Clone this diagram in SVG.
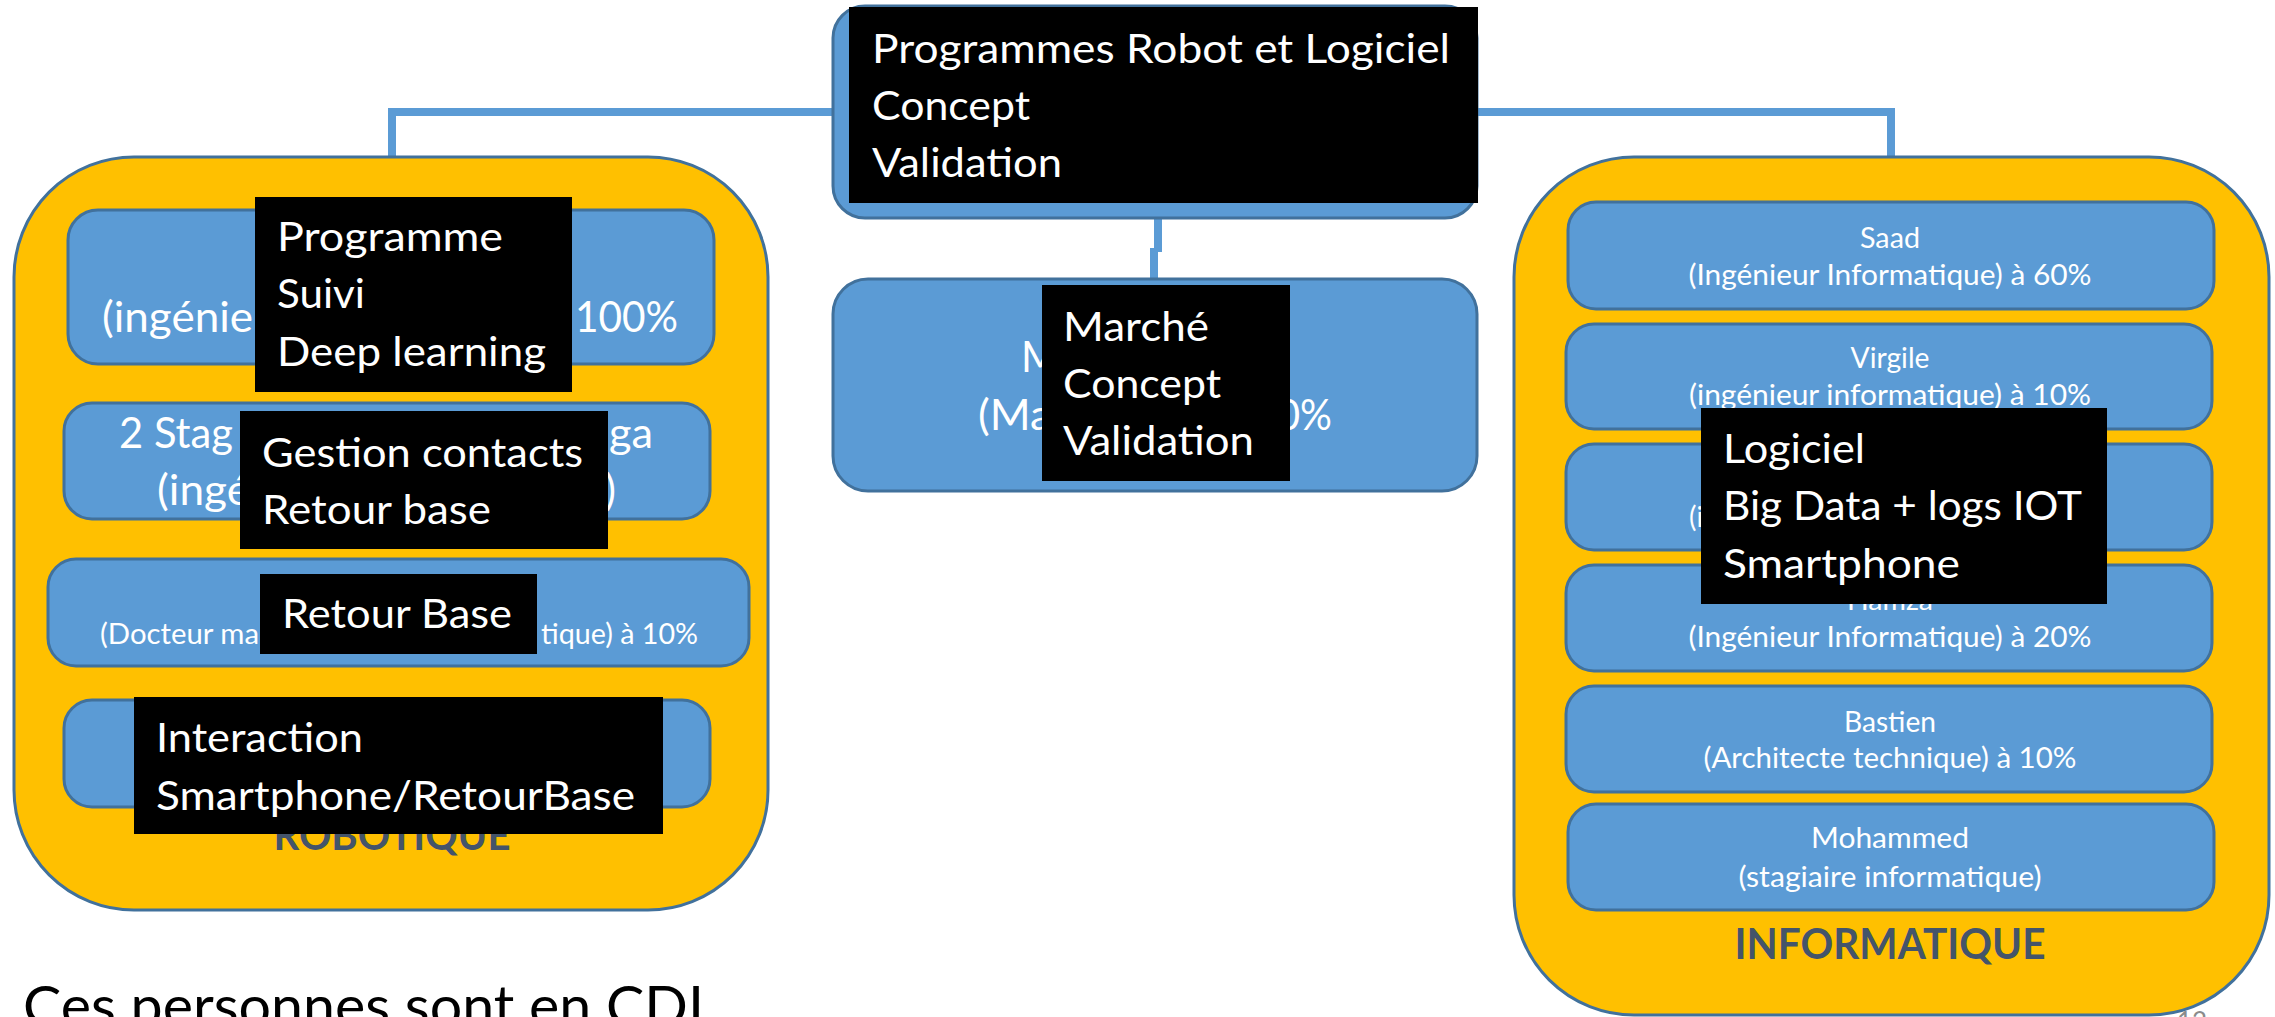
<svg xmlns="http://www.w3.org/2000/svg" width="2275" height="1017" viewBox="0 0 2275 1017">
<defs>
<style>
.yel{fill:#FFC000;stroke:#41719C;stroke-width:3}
.blu{fill:#5B9BD5;stroke:#41719C;stroke-width:3}
.blk{fill:#000000}
.conn{fill:none;stroke:#5B9BD5;stroke-width:8}
.w41{font-family:Lato,"Open Sans",sans-serif;font-size:41px;fill:#FFFFFF}
.w42{font-family:Lato,"Open Sans",sans-serif;font-size:42px;fill:#FFFFFF}
.w28{font-family:Lato,"Open Sans",sans-serif;font-size:28px;fill:#FFFFFF}
.mid{text-anchor:middle}
.end{text-anchor:end}
.hd{font-family:Lato,"Open Sans",sans-serif;font-size:42px;font-weight:bold;fill:#44546A;text-anchor:middle}
.note{font-family:Lato,"Open Sans",sans-serif;font-size:57px;fill:#000000}
.num{font-family:Lato,"Open Sans",sans-serif;font-size:26px;fill:#8B8B8B}
</style>
</defs>
<rect width="2275" height="1017" fill="#FFFFFF"/>

<g id="connectors">
<path class="conn" d="M392,157 V112 H1891 V157"/>
<path class="conn" d="M1158,218 V252"/>
<path class="conn" d="M1154,248 V280"/>
</g>

<g id="node-top">
<rect class="blu" x="833" y="6" width="644" height="212" rx="32"/>
<rect class="blk" x="849" y="7" width="629" height="196"/>
<text class="w41" x="872" y="63" textLength="578" lengthAdjust="spacingAndGlyphs">Programmes Robot et Logiciel</text>
<text class="w41" x="872" y="120" textLength="158" lengthAdjust="spacingAndGlyphs">Concept</text>
<text class="w41" x="872" y="177" textLength="190" lengthAdjust="spacingAndGlyphs">Validation</text>
</g>

<g id="node-marche">
<rect class="blu" x="833" y="279" width="644" height="212" rx="35"/>
<text class="w42" x="1021" y="372" textLength="38" lengthAdjust="spacingAndGlyphs">M</text>
<text class="w42" x="978" y="430" textLength="74" lengthAdjust="spacingAndGlyphs">(Ma</text>
<text class="w42 end" x="1332" y="430" textLength="55" lengthAdjust="spacingAndGlyphs">0%</text>
<rect class="blk" x="1042" y="285" width="248" height="196"/>
<text class="w41" x="1063" y="341" textLength="146" lengthAdjust="spacingAndGlyphs">Marché</text>
<text class="w41" x="1063" y="398" textLength="158" lengthAdjust="spacingAndGlyphs">Concept</text>
<text class="w41" x="1063" y="455" textLength="191" lengthAdjust="spacingAndGlyphs">Validation</text>
</g>

<g id="group-robotique">
<rect class="yel" x="14" y="157" width="754" height="753" rx="120"/>
<text class="hd" x="392" y="850" textLength="237" lengthAdjust="spacingAndGlyphs">ROBOTIQUE</text>
</g>

<g id="node-rob-1">
<rect class="blu" x="68" y="210" width="646" height="154" rx="30"/>
<text class="w42" x="102" y="332" textLength="151" lengthAdjust="spacingAndGlyphs">(ingénie</text>
<text class="w42 end" x="678" y="332" textLength="103" lengthAdjust="spacingAndGlyphs">100%</text>
<rect class="blk" x="255" y="197" width="317" height="195"/>
<text class="w41" x="277" y="251" textLength="226" lengthAdjust="spacingAndGlyphs">Programme</text>
<text class="w41" x="277" y="308" textLength="88" lengthAdjust="spacingAndGlyphs">Suivi</text>
<text class="w41" x="277" y="366" textLength="269" lengthAdjust="spacingAndGlyphs">Deep learning</text>
</g>

<g id="node-rob-2">
<rect class="blu" x="64" y="403" width="646" height="116" rx="28"/>
<text class="w42" x="119" y="448" textLength="114" lengthAdjust="spacingAndGlyphs">2 Stag</text>
<text class="w42 end" x="653" y="448" textLength="44" lengthAdjust="spacingAndGlyphs">ga</text>
<text class="w42" x="157" y="505" textLength="93" lengthAdjust="spacingAndGlyphs">(ingé</text>
<text class="w42 end" x="616" y="505">)</text>
<rect class="blk" x="240" y="411" width="368" height="138"/>
<text class="w41" x="262" y="467" textLength="321" lengthAdjust="spacingAndGlyphs">Gestion contacts</text>
<text class="w41" x="262" y="524" textLength="229" lengthAdjust="spacingAndGlyphs">Retour base</text>
</g>

<g id="node-rob-3">
<rect class="blu" x="48" y="559" width="701" height="107" rx="28"/>
<text class="w28" x="100" y="644" textLength="159" lengthAdjust="spacingAndGlyphs">(Docteur ma</text>
<text class="w28 end" x="698" y="644" textLength="157" lengthAdjust="spacingAndGlyphs">tique) à 10%</text>
<rect class="blk" x="260" y="574" width="277" height="80"/>
<text class="w41" x="282" y="628" textLength="230" lengthAdjust="spacingAndGlyphs">Retour Base</text>
</g>

<g id="node-rob-4">
<rect class="blu" x="64" y="700" width="646" height="107" rx="28"/>
<rect class="blk" x="134" y="697" width="529" height="137"/>
<text class="w41" x="156" y="752" textLength="207" lengthAdjust="spacingAndGlyphs">Interaction</text>
<text class="w41" x="156" y="810" textLength="479" lengthAdjust="spacingAndGlyphs">Smartphone/RetourBase</text>
</g>

<g id="group-informatique">
<rect class="yel" x="1514" y="157" width="755" height="858" rx="120"/>
<text class="hd" x="1890" y="959" textLength="311" lengthAdjust="spacingAndGlyphs">INFORMATIQUE</text>
</g>

<g id="node-saad">
<rect class="blu" x="1568" y="202" width="646" height="107" rx="28"/>
<text class="w28 mid" x="1890" y="248" textLength="60" lengthAdjust="spacingAndGlyphs">Saad</text>
<text class="w28 mid" x="1890" y="285" textLength="403" lengthAdjust="spacingAndGlyphs">(Ingénieur Informatique) à 60%</text>
</g>

<g id="node-virgile">
<rect class="blu" x="1566" y="324" width="646" height="105" rx="28"/>
<text class="w28 mid" x="1890" y="368" textLength="79" lengthAdjust="spacingAndGlyphs">Virgile</text>
<text class="w28 mid" x="1890" y="405" textLength="402" lengthAdjust="spacingAndGlyphs">(ingénieur informatique) à 10%</text>
</g>

<g id="node-info-3">
<rect class="blu" x="1566" y="444" width="646" height="106" rx="28"/>
<text class="w28" x="1689" y="527">(i</text>
</g>

<g id="node-hamza">
<rect class="blu" x="1566" y="565" width="646" height="106" rx="28"/>
<text class="w28 mid" x="1890" y="610" textLength="86" lengthAdjust="spacingAndGlyphs">Hamza</text>
<text class="w28 mid" x="1890" y="647" textLength="403" lengthAdjust="spacingAndGlyphs">(Ingénieur Informatique) à 20%</text>
</g>

<g id="node-info-label">
<rect class="blk" x="1701" y="408" width="406" height="196"/>
<text class="w41" x="1723" y="463" textLength="142" lengthAdjust="spacingAndGlyphs">Logiciel</text>
<text class="w41" x="1723" y="520" textLength="359" lengthAdjust="spacingAndGlyphs">Big Data + logs IOT</text>
<text class="w41" x="1723" y="578" textLength="237" lengthAdjust="spacingAndGlyphs">Smartphone</text>
</g>

<g id="node-bastien">
<rect class="blu" x="1566" y="686" width="646" height="106" rx="28"/>
<text class="w28 mid" x="1890" y="732" textLength="92" lengthAdjust="spacingAndGlyphs">Bastien</text>
<text class="w28 mid" x="1890" y="768" textLength="373" lengthAdjust="spacingAndGlyphs">(Architecte technique) à 10%</text>
</g>

<g id="node-mohammed">
<rect class="blu" x="1568" y="804" width="646" height="106" rx="28"/>
<text class="w28 mid" x="1890" y="848" textLength="158" lengthAdjust="spacingAndGlyphs">Mohammed</text>
<text class="w28 mid" x="1890" y="887" textLength="303" lengthAdjust="spacingAndGlyphs">(stagiaire informatique)</text>
</g>

<g id="footer">
<text class="note" x="23" y="1026" textLength="681" lengthAdjust="spacingAndGlyphs">Ces personnes sont en CDI</text>
<text class="num" x="2177" y="1031">12</text>
</g>
</svg>
